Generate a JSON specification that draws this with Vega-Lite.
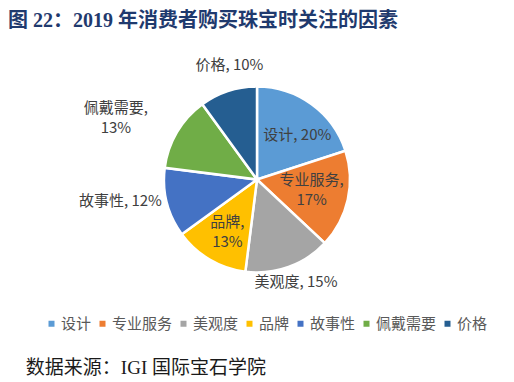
{
  "$schema": "https://vega.github.io/schema/vega-lite/v6.json",
  "autosize": {"type": "fit", "contains": "padding"},
  "width": 514,
  "height": 382,
  "padding": {"top": 11, "bottom": 4, "left": 8, "right": 8},
  "background": "#ffffff",
  "title": {
    "text": "图 22：2019 年消费者购买珠宝时关注的因素",
    "anchor": "start",
    "baseline": "top",
    "font": "Liberation Serif, Noto Sans CJK SC",
    "fontSize": 20,
    "fontWeight": "bold",
    "color": "#1F3A6E",
    "offset": 2,
    "dy": 10
  },
  "data": {
    "values": [
      {"i": 1, "name": "设计", "value": 20, "label": "设计, 20%"},
      {"i": 2, "name": "专业服务", "value": 17, "label": "专业服务,\n17%"},
      {"i": 3, "name": "美观度", "value": 15, "label": "美观度, 15%"},
      {"i": 4, "name": "品牌", "value": 13, "label": "品牌,\n13%"},
      {"i": 5, "name": "故事性", "value": 12, "label": "故事性, 12%"},
      {"i": 6, "name": "佩戴需要", "value": 13, "label": "佩戴需要,\n13%"},
      {"i": 7, "name": "价格", "value": 10, "label": "价格, 10%"}
    ]
  },
  "encoding": {
    "theta": {"field": "value", "type": "quantitative", "stack": true},
    "order": {"field": "i", "type": "quantitative"}
  },
  "layer": [
    {
      "mark": {"type": "arc", "outerRadius": 93, "stroke": "#ffffff", "strokeWidth": 2.5},
      "encoding": {
        "color": {
          "field": "name",
          "type": "nominal",
          "scale": {
            "domain": ["设计", "专业服务", "美观度", "品牌", "故事性", "佩戴需要", "价格"],
            "range": ["#5B9BD5", "#ED7D31", "#A5A5A5", "#FFC000", "#4472C4", "#70AD47", "#255E91"]
          },
          "legend": {
            "orient": "bottom",
            "direction": "horizontal",
            "title": "数据来源：IGI 国际宝石学院",
            "titleOrient": "bottom",
            "titleAnchor": "middle",
            "titleAlign": "right",
            "titleFont": "Liberation Serif, Noto Sans CJK SC",
            "titleFontSize": 19,
            "titleFontWeight": "normal",
            "titleColor": "#1a1a1a",
            "titlePadding": 27,
            "titleLimit": 500,
            "symbolType": "square",
            "symbolSize": 36,
            "symbolStrokeWidth": 0,
            "labelFont": "Noto Sans CJK SC",
            "labelFontSize": 15,
            "labelColor": "#595959",
            "labelOffset": 2,
            "columnPadding": 3,
            "offset": -20
          }
        }
      }
    },
    {
      "mark": {"type": "text", "radius": 55, "dx": 8, "dy": 0, "font": "Noto Sans CJK SC", "fontSize": 15, "color": "#404040", "lineBreak": "\n", "lineHeight": 20},
      "encoding": {"detail": {"field": "name"}, "text": {"condition": {"test": "datum.name === '设计'", "field": "label"}, "value": ""}}
    },
    {
      "mark": {"type": "text", "radius": 56, "dy": -12, "font": "Noto Sans CJK SC", "fontSize": 15, "color": "#404040", "lineBreak": "\n", "lineHeight": 20},
      "encoding": {"detail": {"field": "name"}, "text": {"condition": {"test": "datum.name === '专业服务'", "field": "label"}, "value": ""}}
    },
    {
      "mark": {"type": "text", "radius": 115, "dy": -6, "font": "Noto Sans CJK SC", "fontSize": 15, "color": "#404040", "lineBreak": "\n", "lineHeight": 20},
      "encoding": {"detail": {"field": "name"}, "text": {"condition": {"test": "datum.name === '美观度'", "field": "label"}, "value": ""}}
    },
    {
      "mark": {"type": "text", "radius": 66, "dx": 4, "dy": -14, "font": "Noto Sans CJK SC", "fontSize": 15, "color": "#404040", "lineBreak": "\n", "lineHeight": 20},
      "encoding": {"detail": {"field": "name"}, "text": {"condition": {"test": "datum.name === '品牌'", "field": "label"}, "value": ""}}
    },
    {
      "mark": {"type": "text", "radius": 141, "dy": -14, "font": "Noto Sans CJK SC", "fontSize": 15, "color": "#404040", "lineBreak": "\n", "lineHeight": 20},
      "encoding": {"detail": {"field": "name"}, "text": {"condition": {"test": "datum.name === '故事性'", "field": "label"}, "value": ""}}
    },
    {
      "mark": {"type": "text", "radius": 150, "dx": -12, "dy": 5, "font": "Noto Sans CJK SC", "fontSize": 15, "color": "#404040", "lineBreak": "\n", "lineHeight": 20},
      "encoding": {"detail": {"field": "name"}, "text": {"condition": {"test": "datum.name === '佩戴需要'", "field": "label"}, "value": ""}}
    },
    {
      "mark": {"type": "text", "radius": 112, "dx": 7, "dy": -8, "font": "Noto Sans CJK SC", "fontSize": 15, "color": "#404040", "lineBreak": "\n", "lineHeight": 20},
      "encoding": {"detail": {"field": "name"}, "text": {"condition": {"test": "datum.name === '价格'", "field": "label"}, "value": ""}}
    }
  ],
  "config": {
    "view": {"stroke": null},
    "legend": {"layout": {"bottom": {"anchor": "middle"}}}
  }
}
